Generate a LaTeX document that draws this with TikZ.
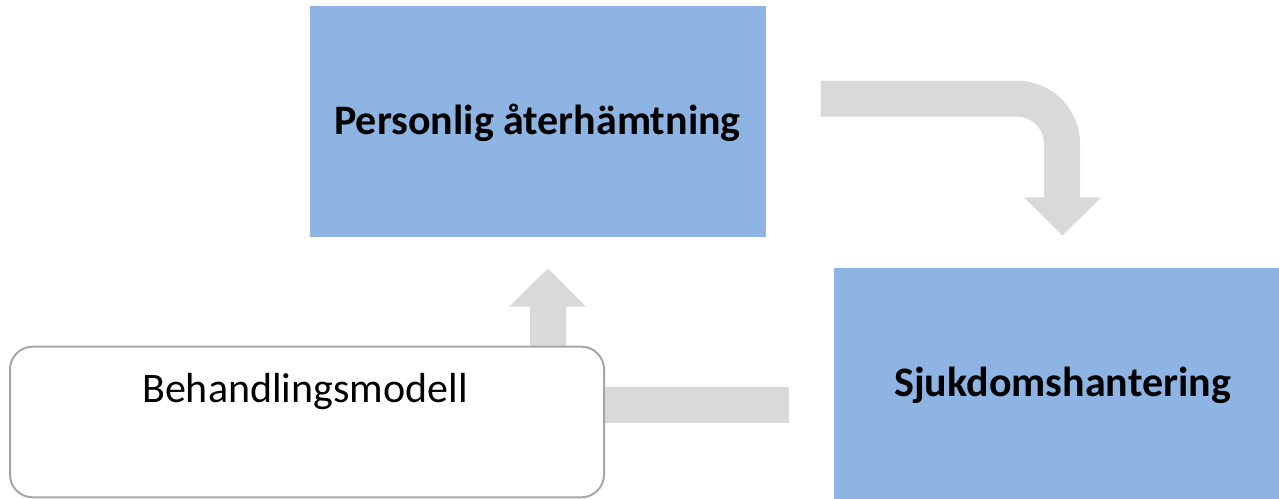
\documentclass[tikz,border=0pt]{standalone}
\usepackage{fontspec}
\setmainfont{Carlito}
\usetikzlibrary{calc}
\definecolor{boxblue}{HTML}{8EB4E3}
\definecolor{arrowgray}{HTML}{D9D9D9}
\definecolor{framegray}{HTML}{A6A6A6}
\begin{document}
\begin{tikzpicture}[x=0.75pt,y=-0.75pt,
  bluebox/.style={fill=boxblue,draw=none,inner sep=0pt,outer sep=0pt,minimum height=173.25pt},
  modelbox/.style={fill=white,draw=framegray,line width=1.5pt,rounded corners=17pt,
    inner sep=0pt,outer sep=0pt,minimum width=445.5pt,minimum height=113pt},
  boldtext/.style={font=\fontsize{31.5}{38}\selectfont\bfseries,inner sep=0pt,anchor=base},
  labeltext/.style={font=\fontsize{31.5}{38}\selectfont,inner sep=0pt,anchor=base},
  blockarrow/.style={fill=arrowgray,draw=none}]
\useasboundingbox (0,0) rectangle (1279,499);

% boxes
\node[bluebox,minimum width=342pt] (rec) at (538,121.5) {};
\node[boldtext] (rectext) at ($(rec.center)+(-0.5,12.8)$) {Personlig återhämtning};
\node[bluebox,minimum width=333.75pt] (ill) at (1056.5,383.5) {};
\node[boldtext] (illtext) at ($(ill.center)+(6,13.2)$) {Sjukdomshantering};

% block arrows (behind the treatment model box)
\coordinate (upbase) at (548,346);
\fill[blockarrow] ($(upbase)+(-18,0)$) -- ($(upbase)+(-18,-39.3)$) -- ($(upbase)+(-38.7,-39.3)$)
  -- ($(upbase)+(0,-77.7)$) -- ($(upbase)+(38,-39.3)$) -- ($(upbase)+(18,-39.3)$)
  -- ($(upbase)+(18,0)$) -- cycle;
\fill[blockarrow] (590,387.3) rectangle (789,423.3);
\fill[blockarrow] (820.7,80.7) -- (1017,80.7) .. controls (1051.8,80.7) and (1080,108.9) .. (1080,143.7)
  -- (1080,197.3) -- (1101,197.3) -- (1062.5,235.7) -- (1024,197.3) -- (1044,197.3)
  -- (1044,143.7) .. controls (1044,128.8) and (1031.9,116.7) .. (1017,116.7)
  -- (820.7,116.7) -- cycle;

% treatment model box
\node[modelbox] (model) at (307,422) {};
\node[labeltext] (modeltext) at ($(model.north)+(-2,55.7)$) {Behandlingsmodell};
\end{tikzpicture}
\end{document}
